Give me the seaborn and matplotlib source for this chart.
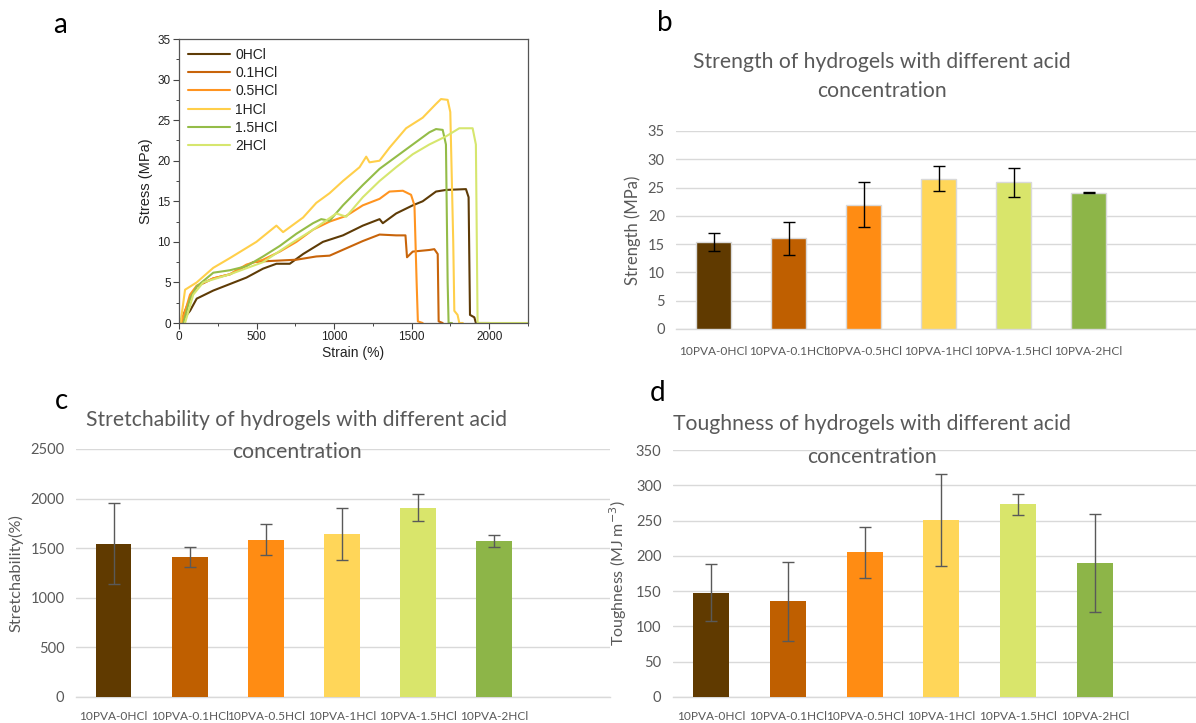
import numpy as np
import pandas as pd
import matplotlib
matplotlib.use("Agg")
import matplotlib.pyplot as plt
import seaborn as sns
from matplotlib.ticker import MultipleLocator

sns.set_theme(style="white")
plt.rcParams['font.family'] = ['Lato', 'DejaVu Sans']

# ---------------- data ----------------
samples = ["10PVA-0HCl", "10PVA-0.1HCl", "10PVA-0.5HCl", "10PVA-1HCl", "10PVA-1.5HCl", "10PVA-2HCl"]
bar_colors = ["#603A00", "#BF5F00", "#FF8C13", "#FFD659", "#D9E56B", "#8DB548"]

strength = [15.4, 16.0, 22.0, 26.6, 25.9, 24.1]
strength_err = [1.65, 3.0, 3.9, 2.2, 2.5, 0.1]

stretch = [1545, 1415, 1585, 1645, 1910, 1573]
stretch_err = [410, 102, 157, 265, 140, 60]

tough = [148, 136, 205, 251, 273, 190]
tough_err = [41, 56, 36, 65, 15, 69]

curve_names = ["0HCl", "0.1HCl", "0.5HCl", "1HCl", "1.5HCl", "2HCl"]
curve_colors = ["#5E3B06", "#C8640A", "#FF9420", "#FFCF4A", "#94BC48", "#D6E66E"]

strain_0 = [6, 71, 114, 221, 328, 435, 542, 628, 714, 800, 928, 1057, 1185, 1293, 1314, 1400, 1507, 1571, 1657, 1721, 1850, 1867, 1876, 1904, 1914, 2000]
stress_0 = [0, 1.5, 3.0, 4.0, 4.8, 5.6, 6.7, 7.3, 7.3, 8.5, 10.0, 10.8, 12.0, 12.8, 12.3, 13.5, 14.5, 15.0, 16.2, 16.4, 16.5, 15.5, 1.0, 0.7, 0, 0]

strain_01 = [6, 71, 114, 221, 328, 478, 542, 757, 885, 971, 1078, 1185, 1293, 1400, 1460, 1470, 1507, 1614, 1646, 1668, 1674, 1700]
stress_01 = [0, 3.0, 4.5, 5.5, 6.0, 7.5, 7.6, 7.8, 8.2, 8.3, 9.2, 10.1, 10.9, 10.8, 10.8, 8.1, 8.8, 9.0, 9.1, 8.5, 0.2, 0]

strain_05 = [17, 71, 114, 221, 328, 435, 542, 650, 757, 864, 971, 1078, 1185, 1293, 1357, 1443, 1496, 1518, 1532, 1540, 1571]
stress_05 = [0, 3.5, 4.6, 5.5, 6.0, 7.2, 7.8, 8.8, 10.0, 11.5, 12.5, 13.2, 14.5, 15.3, 16.2, 16.3, 15.8, 14.5, 5.0, 0.2, 0]

strain_1 = [10, 39, 114, 221, 328, 499, 628, 671, 714, 800, 885, 971, 1057, 1164, 1207, 1228, 1293, 1357, 1464, 1571, 1657, 1689, 1732, 1749, 1768, 1775, 1796, 1807, 1830]
stress_1 = [0, 4.1, 5.0, 6.8, 8.0, 10.0, 12.0, 11.2, 11.8, 13.0, 14.8, 16.0, 17.5, 19.2, 20.5, 19.8, 20.0, 21.6, 24.0, 25.3, 27.0, 27.6, 27.5, 26.0, 10.0, 1.5, 1.0, 0, 0]

strain_15 = [28, 71, 114, 221, 328, 435, 542, 650, 757, 864, 917, 971, 1057, 1185, 1293, 1400, 1507, 1614, 1657, 1700, 1721, 1732, 1738, 1760]
stress_15 = [0, 3.0, 4.5, 6.2, 6.5, 7.0, 8.2, 9.5, 11.0, 12.3, 12.8, 12.6, 14.5, 17.0, 19.0, 20.5, 22.0, 23.5, 23.9, 23.8, 22.0, 5.0, 0, 0]

strain_2 = [39, 92, 156, 328, 542, 714, 864, 1014, 1078, 1185, 1293, 1400, 1507, 1614, 1721, 1807, 1893, 1914, 1925, 2100, 2250]
stress_2 = [0, 3.5, 5.0, 6.0, 7.5, 9.7, 11.5, 13.5, 13.1, 15.5, 17.5, 19.2, 20.8, 22.0, 23.0, 24.0, 24.0, 22.0, 0, 0, 0]

curves = [(strain_0, stress_0), (strain_01, stress_01), (strain_05, stress_05),
          (strain_1, stress_1), (strain_15, stress_15), (strain_2, stress_2)]

# ---------------- figure ----------------
W, H = 1196, 723
fig = plt.figure(figsize=(W / 100, H / 100), dpi=100)

def rect(left, top, right, bottom):
    return [left / W, 1 - bottom / H, (right - left) / W, (bottom - top) / H]

GRAY = "#595959"
GRID = "#D9D9D9"
ARIAL = ["Liberation Sans", "DejaVu Sans"]

# ---- panel a ----
axa = fig.add_axes(rect(179, 39, 528, 323))
frames = []
for name, (sx, sy) in zip(curve_names, curves):
    frames.append(pd.DataFrame({"Strain": sx, "Stress": sy, "sample": name}))
dfa = pd.concat(frames, ignore_index=True)
sns.lineplot(data=dfa, x="Strain", y="Stress", hue="sample", hue_order=curve_names,
             palette=curve_colors, sort=False, estimator=None, units="sample",
             linewidth=1.5, ax=axa, legend=True)
axa.set_xlim(0, 2250)
axa.set_ylim(0, 35)
axa.xaxis.set_major_locator(MultipleLocator(500))
axa.xaxis.set_minor_locator(MultipleLocator(250))
axa.yaxis.set_major_locator(MultipleLocator(5))
axa.yaxis.set_minor_locator(MultipleLocator(2.5))
axa.tick_params(which="major", direction="out", length=4, width=0.8, color="#444444",
                labelsize=8.5, labelcolor="#222222", pad=2, bottom=True, left=True)
axa.tick_params(which="minor", direction="out", length=2.5, width=0.7, color="#444444",
                bottom=True, left=True)
for lab in axa.get_xticklabels() + axa.get_yticklabels():
    lab.set_family(ARIAL)
for sp in axa.spines.values():
    sp.set_color("#555555")
    sp.set_linewidth(0.9)
axa.set_xlabel("Strain (%)", fontsize=10, family=ARIAL, color="#222222", labelpad=2)
axa.set_ylabel("Stress (MPa)", fontsize=10.5, family=ARIAL, color="#222222", labelpad=3)
leg = axa.legend(loc="upper left", frameon=False, handlelength=3.0,
                 handletextpad=0.4, labelspacing=0.3, borderaxespad=0.25,
                 prop={"family": ARIAL, "size": 10})
for t in leg.get_texts():
    t.set_color("#222222")

# ---- bar panels ----
def bar_panel(ax, values, errs, ylim, step, ylabel, right_lim, err_color, edge, xpad, ylsize):
    df = pd.DataFrame({"sample": samples, "value": values})
    sns.barplot(data=df, x="sample", y="value", hue="sample", hue_order=samples,
                palette=bar_colors, order=samples, legend=False, width=0.47,
                saturation=1, errorbar=None, ax=ax, edgecolor=edge,
                linewidth=1.0 if edge != "none" else 0, zorder=3)
    ax.errorbar(np.arange(len(samples)), values, yerr=errs, fmt="none", ecolor=err_color,
                elinewidth=1.0, capsize=4.5, capthick=1.0, zorder=4)
    ax.set_ylim(*ylim)
    ax.set_xlim(-0.5, right_lim)
    ax.yaxis.set_major_locator(MultipleLocator(step))
    ax.grid(axis="y", color=GRID, linewidth=1.0, zorder=0)
    ax.set_axisbelow(True)
    for s in ["top", "right", "left"]:
        ax.spines[s].set_visible(False)
    ax.spines["bottom"].set_color(GRID)
    ax.spines["bottom"].set_linewidth(1.0)
    ax.tick_params(axis="both", length=0)
    ax.tick_params(axis="y", labelsize=10.5, labelcolor=GRAY, pad=8)
    ax.tick_params(axis="x", labelsize=8.6, labelcolor=GRAY, pad=xpad)
    ax.set_xlabel("")
    ax.set_ylabel(ylabel, fontsize=ylsize, color=GRAY, labelpad=5)

axb = fig.add_axes(rect(676, 131, 1196, 329))
bar_panel(axb, strength, strength_err, (0, 35), 5, "Strength (MPa)", -0.5 + 520 / 75,
          "black", "#D9D9D9", 12, 12)

axc = fig.add_axes(rect(75.5, 449, 610, 697))
bar_panel(axc, stretch, stretch_err, (0, 2500), 500, "Stretchability(%)", -0.5 + 534.5 / 76.1,
          GRAY, "none", 10, 11.8)

axd = fig.add_axes(rect(672.6, 450, 1196, 697))
bar_panel(axd, tough, tough_err, (0, 350), 50, "Toughness (MJ m$^{-3}$)", -0.5 + 523.4 / 76.8,
          GRAY, "none", 10, 11.5)

# ---- titles ----
def title(cx, y1, y2, line1, line2):
    fig.text(cx / W, 1 - y1 / H, line1, ha="center", va="center", fontsize=15.2, color=GRAY)
    fig.text(cx / W, 1 - y2 / H, line2, ha="center", va="center", fontsize=15.2, color=GRAY)

title(882, 62, 91, "Strength of hydrogels with different acid", "concentration")
title(297, 420, 452, "Stretchability of hydrogels with different acid", "concentration")
title(872, 424, 457, "Toughness of hydrogels with different acid", "concentration")

# ---- panel letters ----
for lbl, x, y in [("a", 60, 25), ("b", 665, 23), ("c", 62, 401), ("d", 658, 393)]:
    fig.text(x / W, 1 - y / H, lbl, ha="center", va="center", fontsize=20, color="black")

fig.savefig("out.png", dpi=100)
